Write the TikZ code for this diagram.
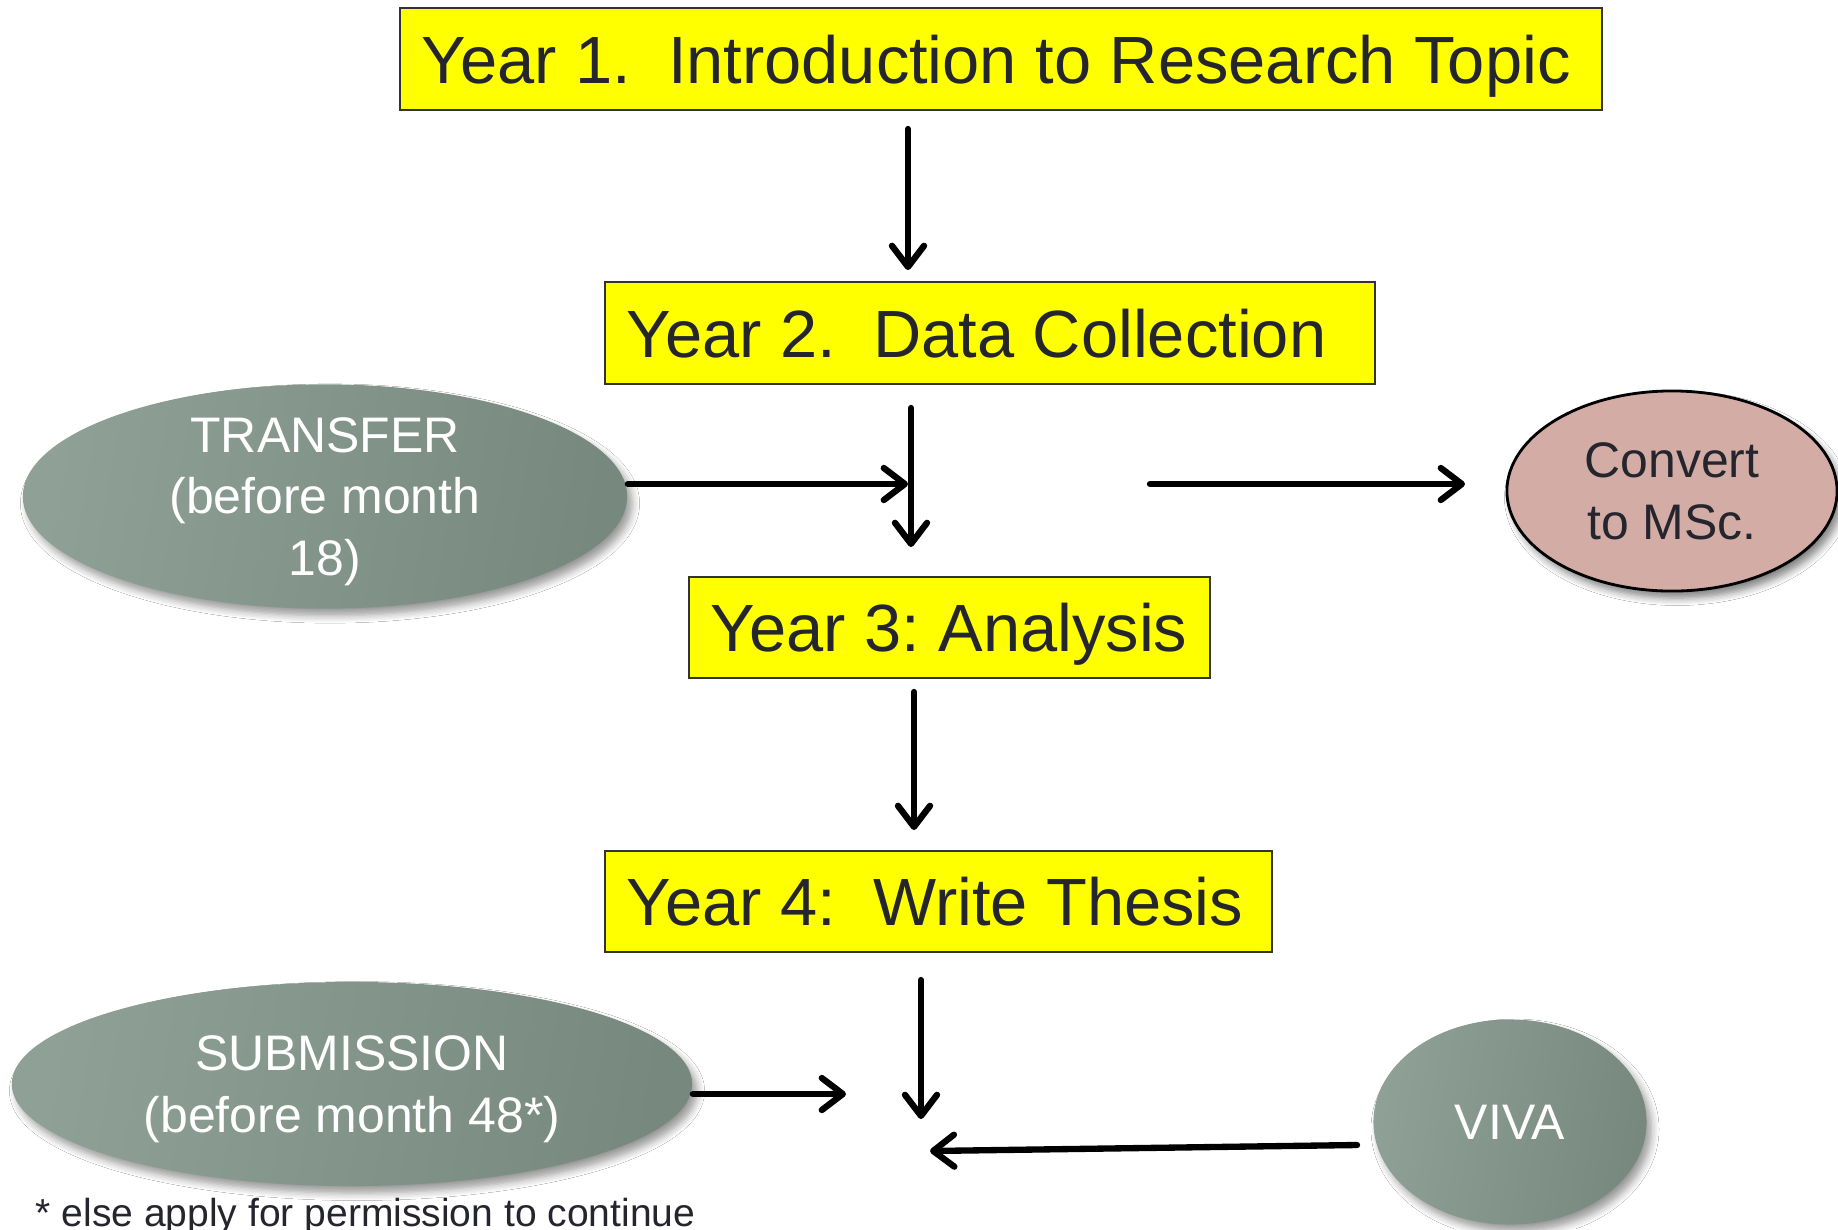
\documentclass[tikz,border=0pt]{standalone}
\usepackage{fontspec}
\setmainfont{Liberation Sans}
\usetikzlibrary{arrows.meta,shapes.geometric,shadows.blur}
\frenchspacing

\definecolor{boxyellow}{HTML}{FFFF00}
\definecolor{boxtext}{HTML}{25252E}
\definecolor{sagelight}{HTML}{8FA196}
\definecolor{sagedark}{HTML}{77887E}
\definecolor{rosefill}{HTML}{D4ACA6}

\tikzset{
  yearbox/.style={draw=black!80, line width=0.6pt, fill=boxyellow,
    text=boxtext, font=\fontsize{19}{22}\selectfont, text depth=0pt,
    inner xsep=0.22cm, inner ysep=0pt, anchor=center},
  sage/.style={ellipse, inner sep=0pt, left color=sagelight, right color=sagedark,
    shading angle=80, text=white, align=center,
    font=\fontsize{14.2}{17.6}\selectfont,
    blur shadow={shadow xshift=0.05cm, shadow yshift=-0.07cm, shadow blur steps=6, shadow opacity=40}},
  rose/.style={ellipse, inner sep=0pt, fill=rosefill, draw=black, line width=0.8pt,
    text=boxtext, align=center, font=\fontsize{14.2}{17.6}\selectfont,
    blur shadow={shadow xshift=0.05cm, shadow yshift=-0.07cm, shadow blur steps=6, shadow opacity=50}},
  flow/.style={line width=1.8pt, line cap=round, line join=round,
    -{Straight Barb[length=2.1mm, width=3.2mm, line cap=round, line join=round]}},
}
% left-aligned label of fixed width inside a stage box
\newcommand{\stagetext}[2]{\makebox[#1][l]{#2}}

\begin{document}
\begin{tikzpicture}[x=0.01cm, y=-0.01cm]
  \clip (0,0) rectangle (1838,1229);
  \fill[white] (0,0) rectangle (1838,1229);

  % yearly stages
  \node[yearbox, minimum height=1.02cm] (y1) at (1001,59)
    {\stagetext{11.58cm}{Year 1.\ \ Introduction to Research Topic}};
  \node[yearbox, minimum height=1.02cm] (y2) at (990,333)
    {\stagetext{7.26cm}{Year 2.\ \ Data Collection}};
  \node[yearbox, minimum height=1.01cm] (y3) at (949.5,627.5)
    {\stagetext{4.77cm}{Year 3: Analysis}};
  \node[yearbox, minimum height=1.01cm] (y4) at (938.5,901.5)
    {\stagetext{6.23cm}{Year 4:\ \ Write Thesis}};

  % milestones
  \node[sage, text depth=0pt, minimum width=6.04cm, minimum height=2.03cm] (tr) at (325,496.5)
    {TRANSFER\\(before month\\18)};
  \node[rose, minimum width=3.30cm, minimum height=2.00cm] (ms) at (1672,491)
    {Convert\\to MSc.};
  \node[sage, text depth=0pt, minimum width=6.80cm, minimum height=2.04cm] (sub) at (352,1084)
    {SUBMISSION\\(before month 48*)};
  \node[sage, minimum width=2.73cm, minimum height=2.05cm] (viva) at (1510,1122)
    {VIVA};

  \node[anchor=base west, inner sep=0pt, text=boxtext,
        font=\fontsize{11.1}{13}\selectfont] (note) at (35,1226)
    {* else apply for permission to continue};

  % arrow end points
  \coordinate (a1s) at (908,129);  \coordinate (a1e) at (908,270);
  \coordinate (a2s) at (911,408);  \coordinate (a2e) at (911,547);
  \coordinate (t1)  at (908,484);
  \coordinate (c1s) at (1150,484); \coordinate (c1e) at (1465,484);
  \coordinate (a3s) at (914,692);  \coordinate (a3e) at (914,830);
  \coordinate (a4s) at (921,980);  \coordinate (a4e) at (921,1119);
  \coordinate (s1)  at (846,1094);
  \coordinate (v1s) at (1357,1145); \coordinate (v1e) at (930,1151);

  \draw[flow] (a1s) -- (a1e);
  \draw[flow] (a2s) -- (a2e);
  \draw[flow] (tr.east |- t1) -- (t1);
  \draw[flow] (c1s) -- (c1e);
  \draw[flow] (a3s) -- (a3e);
  \draw[flow] (a4s) -- (a4e);
  \draw[flow] (sub.east |- s1) -- (s1);
  \draw[flow] (v1s) -- (v1e);
\end{tikzpicture}
\end{document}
